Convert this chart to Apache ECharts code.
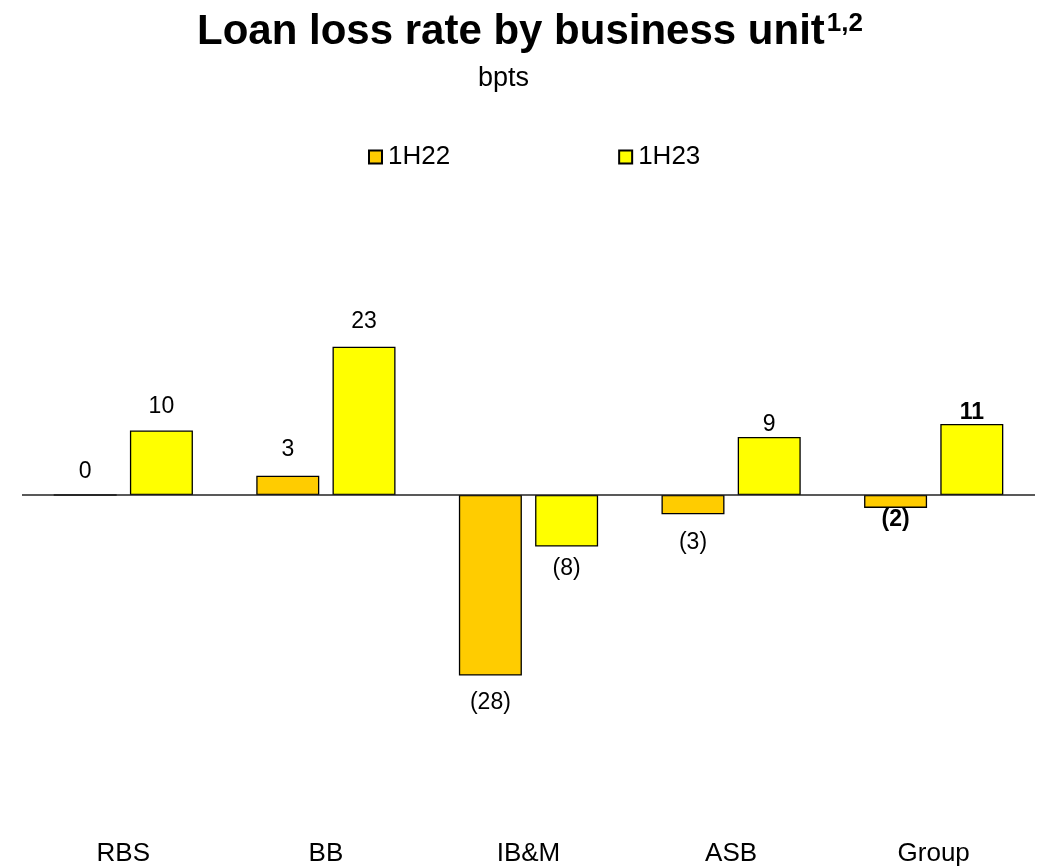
<!DOCTYPE html>
<html>
<head>
<meta charset="utf-8">
<script src="https://cdn.jsdelivr.net/npm/echarts@6/dist/echarts.min.js"></script>
<style>html,body{margin:0;padding:0;background:#fff}#c{width:1041px;height:868px}</style>
</head>
<body>
<div id="c"></div>
<script>
const categories = ['RBS', 'BB', 'IB&M', 'ASB', 'Group'];
const seriesNames = ['1H22', '1H23'];
const values1H22 = [0, 3, -28, -3, -2];
const values1H23 = [10, 23, -8, 9, 11];

// label styling (distance from bar end, px) — not data
const labelDist1H22 = [11, 14, 16, 17, 0];
const labelDist1H23 = [12, 13, 11, 1, 0];

const FONT = '"Liberation Sans", Arial, sans-serif';
const fmt = v => v < 0 ? '(' + Math.abs(v) + ')' : String(v);

function makeData(vals, dists) {
  return vals.map((v, i) => {
    const bold = categories[i] === 'Group';
    return {
      value: v,
      label: {
        position: v < 0 ? 'bottom' : 'top',
        distance: dists[i],
        fontWeight: bold ? 'bold' : 'normal'
      }
    };
  });
}

const chart = echarts.init(document.getElementById('c'), null, {renderer: 'canvas'});
chart.setOption({
  animation: false,
  backgroundColor: '#ffffff',
  textStyle: {fontFamily: FONT},
  title: [
    {
      text: 'Loan loss rate by business unit{sup|1,2}',
      left: 192,
      top: 6,
      textStyle: {
        fontFamily: FONT, fontSize: 42, fontWeight: 'bold', color: '#000',
        rich: {sup: {fontFamily: FONT, fontSize: 26, fontWeight: 'bold', color: '#000', verticalAlign: 'top', padding: [0, 0, 12, 2]}}
      }
    },
    {
      text: 'bpts',
      left: 473,
      top: 60,
      textStyle: {fontFamily: FONT, fontSize: 27, fontWeight: 'normal', color: '#000'}
    }
  ],
  legend: {
    data: seriesNames,
    top: 139,
    left: 363,
    itemGap: 168,
    itemWidth: 13,
    itemHeight: 13,
    icon: 'rect',
    textStyle: {fontFamily: FONT, fontSize: 26, color: '#000', padding: [0, 0, 0, 1]}
  },
  grid: {left: 22, right: 6, top: 237, bottom: 50.5, containLabel: false},
  xAxis: {
    type: 'category', data: categories, position: 'bottom',
    axisLine: {show: false}, axisTick: {show: false},
    axisLabel: {fontFamily: FONT, fontSize: 26, color: '#000', margin: 23}
  },
  yAxis: {
    type: 'value', min: -50, max: 40,
    show: false, splitLine: {show: false}
  },
  series: [
    {
      name: '1H22', type: 'bar', data: makeData(values1H22, labelDist1H22),
      barWidth: 63, barGap: '21%',
      itemStyle: {color: '#FFCC00', borderColor: '#000', borderWidth: 1.3},
      label: {show: true, formatter: p => fmt(p.value), fontFamily: FONT, fontSize: 23, color: '#000'},
      markLine: {
        silent: true, symbol: 'none', animation: false,
        label: {show: false},
        lineStyle: {color: '#222', width: 1.5, type: 'solid'},
        data: [{yAxis: 0}]
      },
      z: 3
    },
    {
      name: '1H23', type: 'bar', data: makeData(values1H23, labelDist1H23),
      barWidth: 63, barGap: '21%',
      itemStyle: {color: '#FFFF00', borderColor: '#000', borderWidth: 1.3},
      label: {show: true, formatter: p => fmt(p.value), fontFamily: FONT, fontSize: 23, color: '#000'},
      z: 3
    }
  ]
});
</script>
</body>
</html>
